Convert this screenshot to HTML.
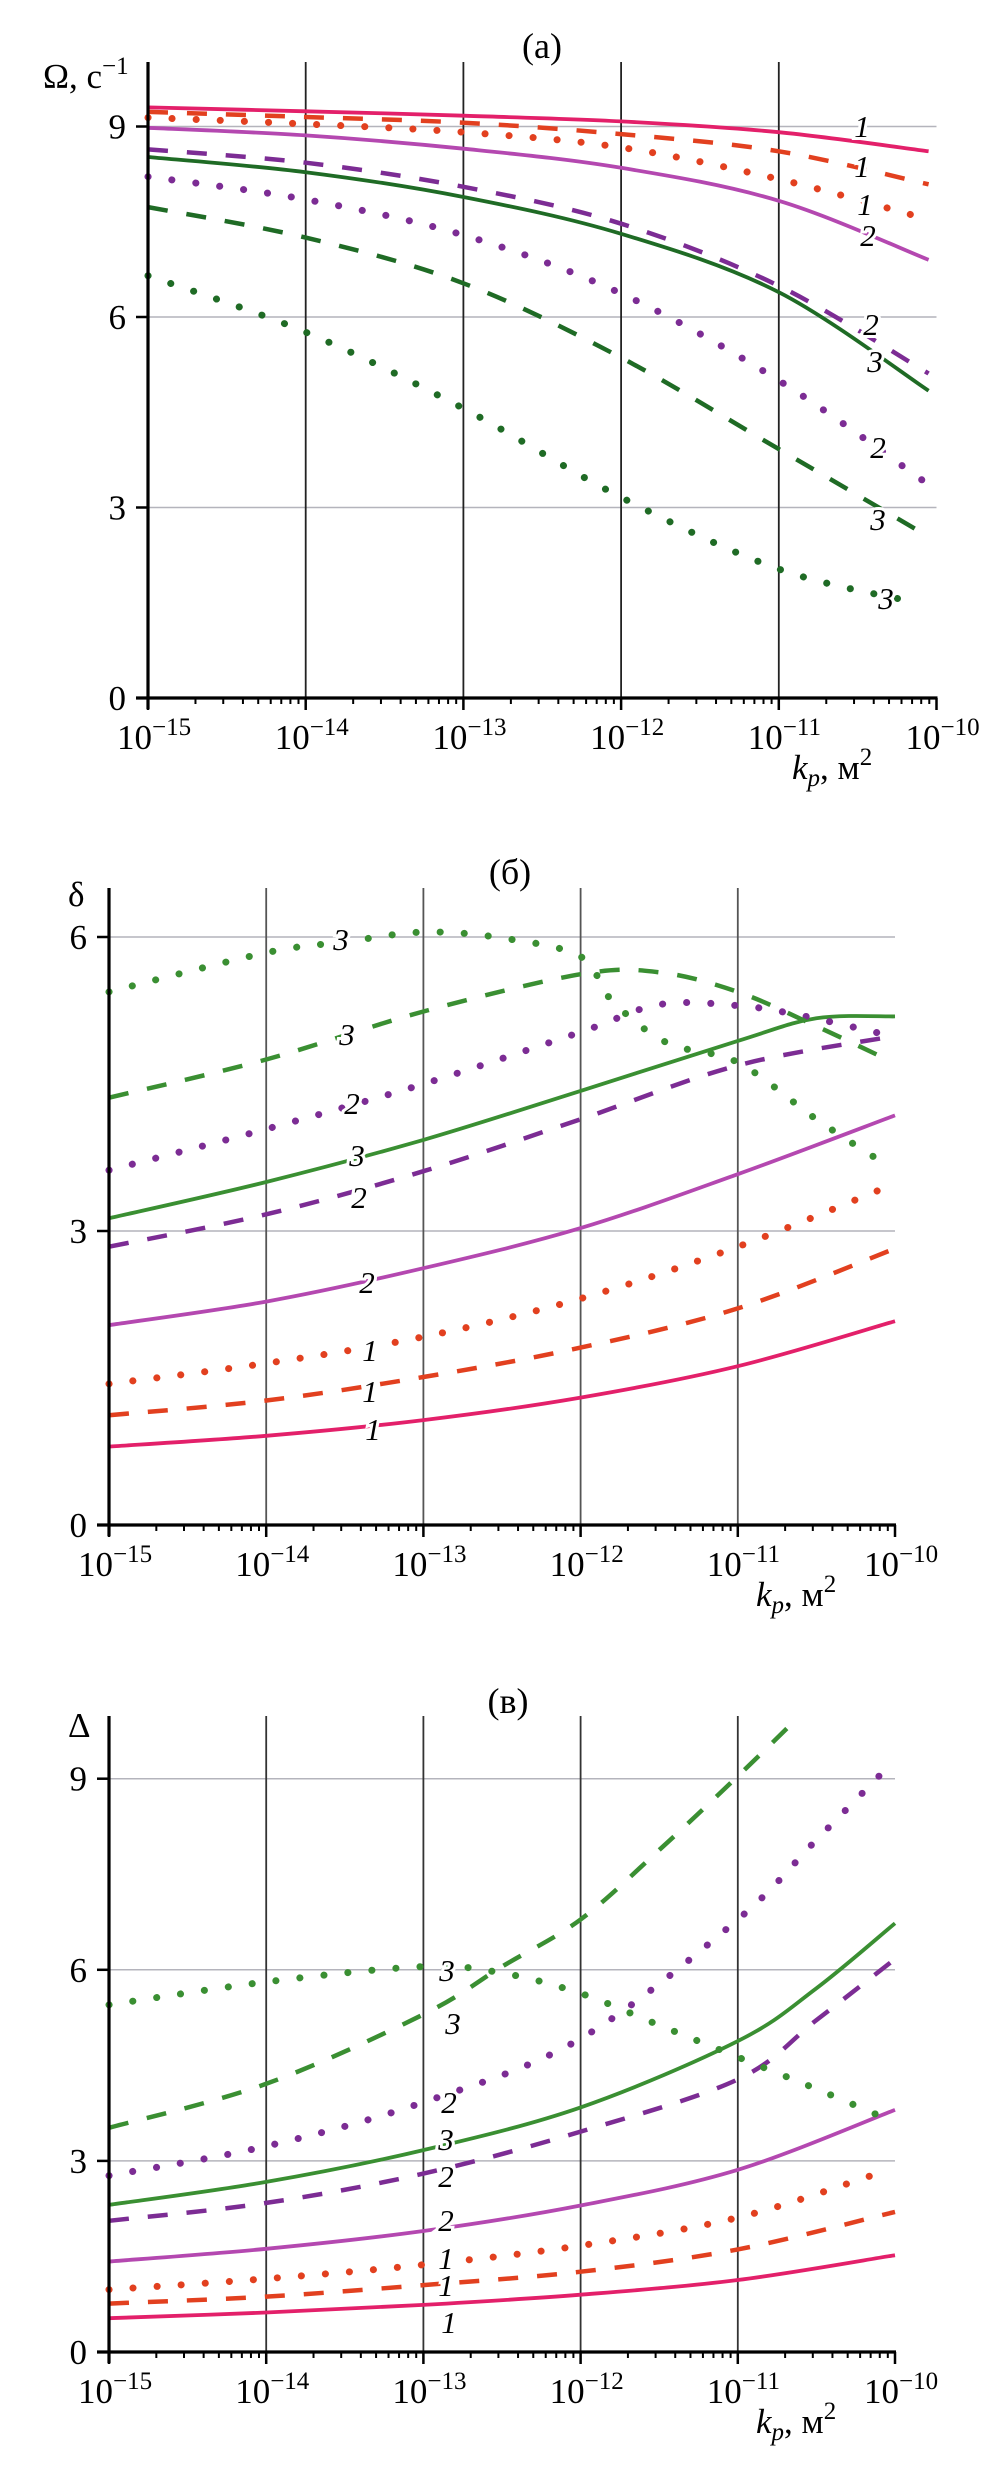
<!DOCTYPE html>
<html><head><meta charset="utf-8">
<style>
html,body{margin:0;padding:0;background:#fff;}
svg{display:block;}
text{font-family:"Liberation Serif",serif;fill:#000;}
.lbl{font-style:italic;font-size:31px;paint-order:stroke;stroke:#fff;stroke-width:6px;}
</style></head>
<body>
<svg id="s" width="1008" height="2480" viewBox="0 0 1008 2480" xmlns="http://www.w3.org/2000/svg"></svg>
<script>
const S=document.getElementById('s');
let out='';
const C={r1:'#e3206a',o1:'#e2401f',p2:'#b448b0',v2:'#7c2c94',g3:'#1f6b25',G3:'#3a8f32'};
function cat(pts){
  let d='M'+pts[0][0].toFixed(1)+' '+pts[0][1].toFixed(1);
  for(let i=0;i<pts.length-1;i++){
    const p0=pts[i-1]||pts[i],p1=pts[i],p2=pts[i+1],p3=pts[i+2]||p2;
    const c1=[p1[0]+(p2[0]-p0[0])/6,p1[1]+(p2[1]-p0[1])/6];
    const c2=[p2[0]-(p3[0]-p1[0])/6,p2[1]-(p3[1]-p1[1])/6];
    d+=' C'+c1[0].toFixed(1)+' '+c1[1].toFixed(1)+' '+c2[0].toFixed(1)+' '+c2[1].toFixed(1)+' '+p2[0].toFixed(1)+' '+p2[1].toFixed(1);
  }
  return d;
}
function panel(P){
  const X=e=>P.x0+(e+15)*P.dec, Y=v=>P.y0-v*P.u;
  const x1=X(-10);
  P.hg.forEach(v=>{out+=`<line x1="${P.x0}" y1="${Y(v)}" x2="${x1}" y2="${Y(v)}" stroke="#b4b4bc" stroke-width="1.5"/>`;});
  for(let e=-14;e<=-11;e++){out+=`<line x1="${X(e)}" y1="${P.top}" x2="${X(e)}" y2="${P.y0}" stroke="${P.vgc}" stroke-width="1.8"/>`;}
  P.curves.forEach(c=>{
    const pts=c.p.map(q=>[X(q[0]),Y(q[1])]);
    let da='';let w=3.8,cap='butt';
    if(c.s==='d'){da='stroke-dasharray="20 19"';w=4.5;}
    if(c.s==='o'){da='stroke-dasharray="0.1 24"';w=7;cap='round';}
    out+=`<path d="${cat(pts)}" fill="none" stroke="${c.c}" stroke-width="${w}" stroke-linecap="${cap}" ${da}/>`;
  });
  out+=`<line x1="${P.x0}" y1="${P.top}" x2="${P.x0}" y2="${P.y0+11}" stroke="#000" stroke-width="3.2"/>`;
  out+=`<line x1="${P.x0-12}" y1="${P.y0}" x2="${x1+1}" y2="${P.y0}" stroke="#000" stroke-width="3.2"/>`;
  P.yt.forEach(v=>{out+=`<line x1="${P.x0-12}" y1="${Y(v)}" x2="${P.x0}" y2="${Y(v)}" stroke="#000" stroke-width="2.5"/>`;
    out+=`<text x="${P.x0-22}" y="${Y(v)+12}" font-size="35" text-anchor="end">${v}</text>`;});
  for(let e=-15;e<=-10;e++){
    out+=`<line x1="${X(e)}" y1="${P.y0}" x2="${X(e)}" y2="${P.y0+12}" stroke="#000" stroke-width="2.5"/>`;
    out+=`<text x="${X(e)-31}" y="${P.y0+51}" font-size="35">10<tspan font-size="25" dy="-14">−${-e}</tspan></text>`;
    if(e<-10)for(let k=2;k<=9;k++){const xx=X(e+Math.log10(k));out+=`<line x1="${xx}" y1="${P.y0}" x2="${xx}" y2="${P.y0+6}" stroke="#000" stroke-width="2"/>`;}
  }
  out+=`<text x="${P.kx}" y="${P.y0+81}" font-size="35"><tspan font-style="italic">k</tspan><tspan font-style="italic" font-size="25" dy="7">p</tspan><tspan dy="-7">, м</tspan><tspan font-size="25" dy="-14">2</tspan></text>`;
  out+=`<text x="${P.tx}" y="${P.ty}" font-size="36" text-anchor="middle">${P.title}</text>`;
  out+=P.ylab;
  P.labels.forEach(l=>{out+=`<text class="lbl" x="${l[1]}" y="${l[2]}" text-anchor="middle">${l[0]}</text>`;});
}
const E=[-15,-14,-13,-12,-11];
function mk(vals,end,extra){const p=vals.map((v,i)=>[E[i],v]);if(extra)extra.forEach(q=>p.push(q));p.push(end);p.sort((a,b)=>a[0]-b[0]);return p;}
panel({x0:148,dec:157.7,y0:698,u:63.5,top:62,hg:[3,6,9],yt:[0,3,6,9],vgc:'#222',kx:792,tx:542,ty:58,title:'(a)',
 ylab:'<text x="43" y="88" font-size="35">Ω, с<tspan font-size="25" dy="-14">−1</tspan></text>',
 curves:[
  {c:C.g3,s:'o',p:mk([6.65,5.76,4.56,3.16,2.03],[-10.1,1.49])},
  {c:C.g3,s:'d',p:mk([7.73,7.25,6.53,5.36,3.92],[-10.05,2.54])},
  {c:C.v2,s:'o',p:mk([8.21,7.85,7.29,6.37,5.0],[-10.05,3.36])},
  {c:C.g3,s:'s',p:mk([8.52,8.28,7.89,7.31,6.39],[-10.05,4.84])},
  {c:C.v2,s:'d',p:mk([8.64,8.43,8.05,7.47,6.49],[-10.05,5.11])},
  {c:C.p2,s:'s',p:mk([8.98,8.86,8.65,8.35,7.83],[-10.05,6.9])},
  {c:C.o1,s:'o',p:mk([9.14,9.04,8.91,8.67,8.17],[-10.1,7.57])},
  {c:C.o1,s:'d',p:mk([9.23,9.15,9.06,8.88,8.61],[-10.05,8.09])},
  {c:C.r1,s:'s',p:mk([9.3,9.24,9.17,9.08,8.91],[-10.05,8.61])}],
 labels:[['1',862,137],['1',862,177],['1',865,215],['2',868,246],['2',871,335],['2',878,458],['3',875,372],['3',878,530],['3',886,609]]});
panel({x0:109,dec:157.2,y0:1525,u:98,top:888,hg:[3,6],yt:[0,3,6],vgc:'#555',kx:756,tx:510,ty:884,title:'(б)',
 ylab:'<text x="68" y="906" font-size="35">δ</text>',
 curves:[
  {c:C.r1,s:'s',p:mk([0.8,0.91,1.07,1.3,1.62],[-10,2.08])},
  {c:C.o1,s:'d',p:mk([1.12,1.27,1.51,1.81,2.21],[-10,2.82])},
  {c:C.o1,s:'o',p:mk([1.44,1.65,1.92,2.31,2.84],[-10.05,3.45])},
  {c:C.p2,s:'s',p:mk([2.04,2.28,2.62,3.03,3.58],[-10,4.18])},
  {c:C.v2,s:'d',p:mk([2.84,3.17,3.61,4.14,4.69],[-10,4.99])},
  {c:C.G3,s:'s',p:mk([3.13,3.5,3.93,4.43,4.94],[-10,5.19],[[-10.5,5.17]])},
  {c:C.v2,s:'o',p:mk([3.62,4.04,4.5,5.03,5.3],[-10.05,5.0],[[-11.5,5.31],[-10.6,5.2]])},
  {c:C.G3,s:'d',p:mk([4.36,4.75,5.24,5.62,5.44],[-10.05,4.75],[[-11.5,5.64],[-10.5,5.09]])},
  {c:C.G3,s:'o',p:mk([5.44,5.84,6.05,5.8,4.72],[-10.1,3.72],[[-13.5,5.95],[-12.5,5.99],[-11.8,5.35],[-11.45,4.92],[-10.5,4.14]])}],
 labels:[['3',341,950],['3',347,1045],['2',352,1114],['3',357,1166],['2',359,1208],['2',367,1293],['1',370,1361],['1',370,1402],['1',373,1440]]});
panel({x0:109,dec:157.2,y0:2352,u:63.7,top:1716,hg:[3,6,9],yt:[0,3,6,9],vgc:'#333',kx:756,tx:508,ty:1713,title:'(в)',
 ylab:'<text x="68" y="1737" font-size="35">Δ</text>',
 curves:[
  {c:C.r1,s:'s',p:mk([0.53,0.62,0.74,0.9,1.13],[-10,1.52])},
  {c:C.o1,s:'d',p:mk([0.76,0.87,1.05,1.26,1.61],[-10,2.2])},
  {c:C.o1,s:'o',p:mk([0.98,1.15,1.37,1.67,2.11],[-10.1,2.81])},
  {c:C.p2,s:'s',p:mk([1.42,1.62,1.9,2.3,2.86],[-10,3.8])},
  {c:C.v2,s:'d',p:mk([2.06,2.34,2.8,3.46,4.28],[-10,6.17],[[-10.5,5.21]])},
  {c:C.G3,s:'s',p:mk([2.31,2.67,3.17,3.84,4.88],[-10,6.73],[[-10.5,5.71]])},
  {c:C.v2,s:'o',p:mk([2.77,3.23,3.92,4.92,6.79],[-10.05,9.17],[[-10.5,8.04]])},
  {c:C.G3,s:'d',p:mk([3.52,4.21,5.3,6.79,9.04],[-10.65,9.88],[[-12.5,6.05],[-11.5,7.88]])},
  {c:C.G3,s:'o',p:mk([5.45,5.81,6.05,5.63,4.63],[-10.1,3.71],[[-12.5,5.95],[-11.5,5.13],[-10.5,4.13]])}],
 labels:[['3',447,1981],['3',453,2034],['2',449,2113],['3',446,2150],['2',446,2187],['2',446,2231],['1',446,2269],['1',446,2296],['1',449,2333]]});
S.innerHTML=out;
</script>
</body></html>
